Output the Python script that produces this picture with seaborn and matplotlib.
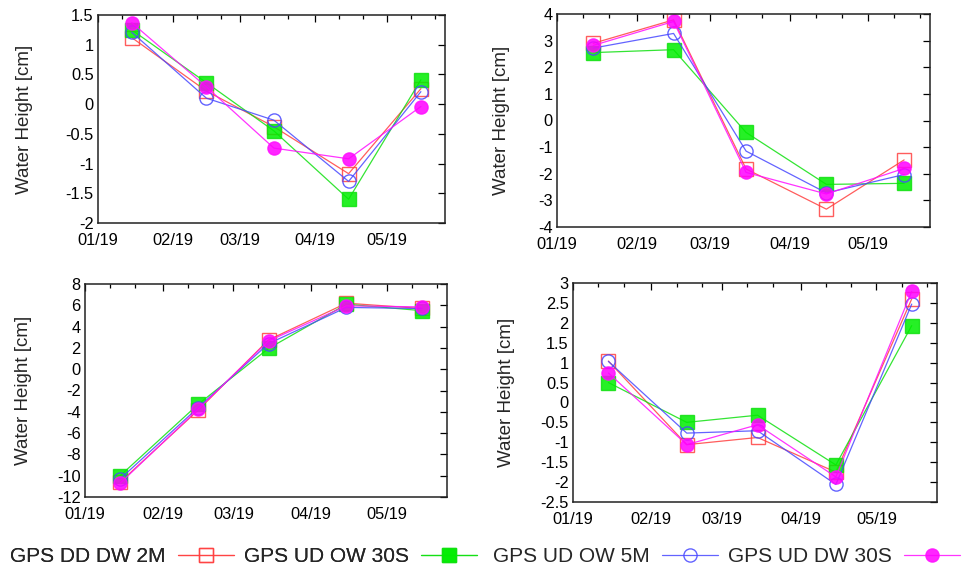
import pandas as pd
import matplotlib
matplotlib.use('Agg')
import matplotlib.pyplot as plt
import matplotlib.dates as mdates
from matplotlib.lines import Line2D
from matplotlib.ticker import MultipleLocator, FormatStrFormatter
import seaborn as sns

# sample dates (mid month) and the four series per panel
dates = pd.to_datetime(['2019-01-15', '2019-02-15', '2019-03-15', '2019-04-15', '2019-05-15'])
series_names = ['GPS DD DW 2M', 'GPS UD OW 30S', 'GPS UD OW 5M', 'GPS UD DW 30S']

tl_red = [1.12, 0.22, -0.38, -1.17, 0.26]
tl_green = [1.25, 0.36, -0.45, -1.60, 0.41]
tl_blue = [1.21, 0.10, -0.27, -1.30, 0.21]
tl_magenta = [1.37, 0.29, -0.74, -0.92, -0.04]

tr_red = [2.90, 3.78, -1.82, -3.33, -1.48]
tr_green = [2.55, 2.66, -0.45, -2.40, -2.36]
tr_blue = [2.72, 3.27, -1.15, -2.72, -2.03]
tr_magenta = [2.82, 3.72, -1.95, -2.76, -1.80]

bl_red = [-10.6, -3.85, 2.75, 6.2, 5.7]
bl_green = [-10.0, -3.3, 1.95, 6.1, 5.5]
bl_blue = [-10.3, -3.6, 2.4, 5.8, 5.7]
bl_magenta = [-10.7, -3.75, 2.65, 5.95, 5.85]

br_red = [1.04, -1.06, -0.88, -1.75, 2.60]
br_green = [0.50, -0.50, -0.32, -1.57, 1.93]
br_blue = [1.03, -0.77, -0.71, -2.06, 2.47]
br_magenta = [0.74, -1.06, -0.56, -1.87, 2.79]

panels = [
    ([tl_red, tl_green, tl_blue, tl_magenta], (-2, 1.5, 0.5), [98, 15, 445, 223], -0.187),
    ([tr_red, tr_green, tr_blue, tr_magenta], (-4, 4, 1), [557, 14, 930, 227], -0.126),
    ([bl_red, bl_green, bl_blue, bl_magenta], (-12, 8, 2), [85, 284, 447, 497], -0.146),
    ([br_red, br_green, br_blue, br_magenta], (-2.5, 3, 0.5), [573, 283, 937, 502], -0.159),
]

# line colour, marker, marker face
styles = [
    ('#ff4040', 's', 'none'),
    ('#10e010', 's', '#00ee00'),
    ('#4848ff', 'o', 'none'),
    ('#ff10ff', 'o', '#ff00ff'),
]

sns.set_style('white')
plt.rcParams['font.family'] = ['Liberation Sans', 'DejaVu Sans']
plt.rcParams['axes.unicode_minus'] = False

W, H = 970, 570
fig = plt.figure(figsize=(9.7, 5.7), dpi=100)

for vals, (ymin, ymax, ystep), (x0, y0, x1, y1), labx in panels:
    ax = fig.add_axes([x0 / W, 1 - y1 / H, (x1 - x0) / W, (y1 - y0) / H])
    for v, (c, m, fc) in zip(vals, styles):
        sns.lineplot(x=dates, y=v, ax=ax, color=c, linewidth=0.9, alpha=0.85,
                     marker=m, markersize=9.5, markerfacecolor=fc,
                     markeredgecolor=c, markeredgewidth=1.0)
    ax.set_xlim(pd.Timestamp('2019-01-01'), pd.Timestamp('2019-05-25'))
    ax.set_ylim(ymin, ymax)
    ax.yaxis.set_major_locator(MultipleLocator(ystep))
    ax.yaxis.set_major_formatter(FormatStrFormatter('%g'))
    ax.xaxis.set_major_locator(mdates.MonthLocator())
    ax.xaxis.set_minor_locator(mdates.DayLocator(bymonthday=[11, 21]))
    ax.xaxis.set_major_formatter(mdates.DateFormatter('%m/%y'))
    ax.tick_params(which='both', direction='in', top=True, right=True,
                   labelsize=11.8, colors='black')
    ax.tick_params(axis='x', which='both', pad=7)
    ax.tick_params(axis='y', which='both', pad=3)
    ax.tick_params(which='major', length=5, width=0.9)
    ax.tick_params(which='minor', length=3, width=0.9)
    for sp in ax.spines.values():
        sp.set_color('#222222')
        sp.set_linewidth(1.1)
    ax.set_ylabel('Water Height [cm]', fontsize=13.5)
    ax.yaxis.set_label_coords(labx, 0.5)
    ax.set_xlabel('')

# legend in two groups along the bottom, text before sample
handles = [Line2D([], [], color=c, linewidth=0.9, alpha=0.85, marker=m, markersize=9.5,
                  markerfacecolor=fc, markeredgecolor=c) for c, m, fc in styles]
leg_kw = dict(ncol=2, markerfirst=False, frameon=False, fontsize=15, loc='center left',
              handlelength=2.7, handletextpad=0.58, columnspacing=0.48,
              borderpad=0, borderaxespad=0)
leg1 = fig.legend(handles[:2], series_names[:2], bbox_to_anchor=(10 / W, 1 - 557 / H), **leg_kw)
fig.add_artist(leg1)
fig.legend(handles[2:], series_names[2:], bbox_to_anchor=(493 / W, 1 - 557 / H), **leg_kw)

fig.savefig('out.png', dpi=100)
